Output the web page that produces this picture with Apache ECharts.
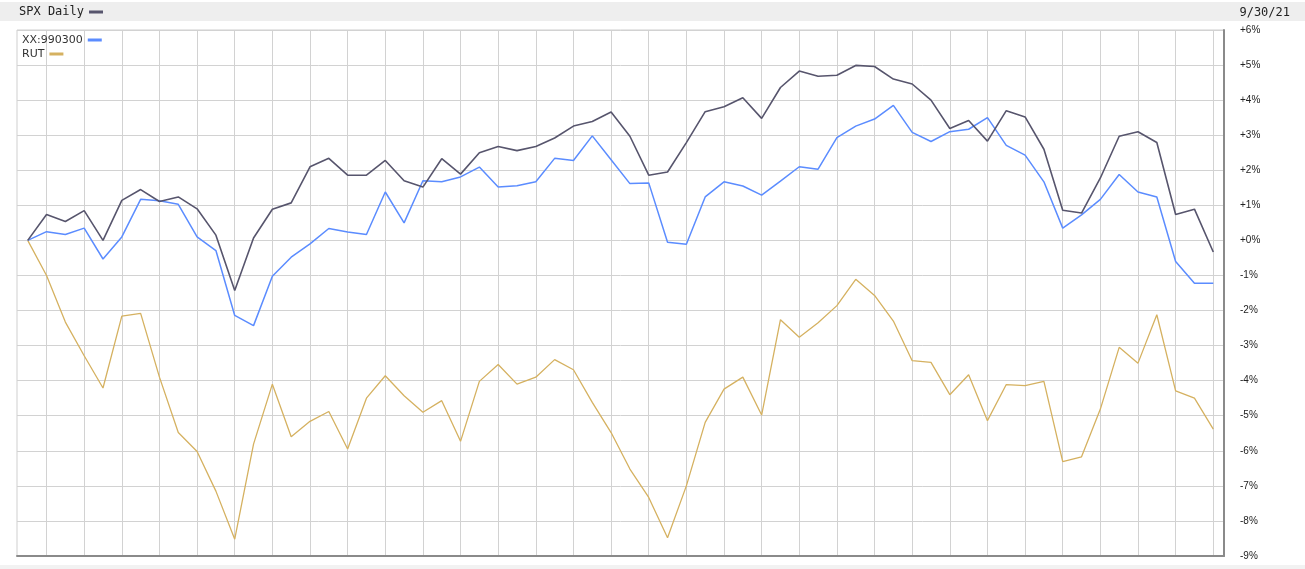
<!DOCTYPE html>
<html><head><meta charset="utf-8">
<script src="https://cdn.jsdelivr.net/npm/echarts@6/dist/echarts.min.js"></script>
<style>html,body{margin:0;padding:0;background:#fff}#c{width:1305px;height:569px}</style>
</head><body><div id="c"></div>
<script>
const days = ['7/1/21','7/2/21','7/6/21','7/7/21','7/8/21','7/9/21','7/12/21','7/13/21','7/14/21','7/15/21','7/16/21','7/19/21','7/20/21','7/21/21','7/22/21','7/23/21','7/26/21','7/27/21','7/28/21','7/29/21','7/30/21',
'8/2/21','8/3/21','8/4/21','8/5/21','8/6/21','8/9/21','8/10/21','8/11/21','8/12/21','8/13/21','8/16/21','8/17/21','8/18/21','8/19/21','8/20/21','8/23/21','8/24/21','8/25/21','8/26/21','8/27/21','8/30/21','8/31/21',
'9/1/21','9/2/21','9/3/21','9/7/21','9/8/21','9/9/21','9/10/21','9/13/21','9/14/21','9/15/21','9/16/21','9/17/21','9/20/21','9/21/21','9/22/21','9/23/21','9/24/21','9/27/21','9/28/21','9/29/21','9/30/21'];

const spx = [0,0.74,0.54,0.85,0.0,1.14,1.45,1.11,1.24,0.90,0.15,-1.43,0.07,0.89,1.07,2.10,2.34,1.86,1.86,2.28,1.70,
1.52,2.33,1.89,2.50,2.68,2.56,2.68,2.92,3.26,3.39,3.66,2.97,1.86,1.95,2.79,3.67,3.81,4.07,3.48,4.36,4.83,4.68,
4.71,4.99,4.96,4.60,4.46,4.00,3.19,3.42,2.83,3.70,3.52,2.60,0.86,0.78,1.78,2.97,3.10,2.79,0.74,0.89,-0.33];

const xx990300 = [0,0.25,0.17,0.35,-0.53,0.10,1.17,1.13,1.03,0.10,-0.29,-2.14,-2.43,-1.02,-0.48,-0.10,0.34,0.24,0.17,1.38,0.50,
1.70,1.67,1.81,2.09,1.52,1.56,1.67,2.34,2.28,2.98,2.30,1.62,1.64,-0.05,-0.11,1.24,1.67,1.55,1.29,1.69,2.10,2.03,
2.93,3.26,3.46,3.85,3.08,2.82,3.10,3.17,3.50,2.71,2.43,1.67,0.35,0.73,1.17,1.88,1.38,1.24,-0.60,-1.22,-1.22];

const rut = [0,-1.0,-2.33,-3.29,-4.21,-2.16,-2.08,-3.90,-5.48,-6.02,-7.15,-8.52,-5.81,-4.10,-5.60,-5.16,-4.88,-5.95,-4.50,-3.86,-4.43,
-4.90,-4.57,-5.73,-4.02,-3.54,-4.10,-3.90,-3.40,-3.69,-4.62,-5.48,-6.52,-7.33,-8.48,-7.00,-5.19,-4.24,-3.90,-4.98,-2.26,-2.76,-2.35,
-1.86,-1.11,-1.57,-2.30,-3.43,-3.48,-4.40,-3.83,-5.14,-4.11,-4.14,-4.02,-6.31,-6.17,-4.81,-3.05,-3.50,-2.12,-4.29,-4.50,-5.38];

const yMin = -9, yMax = 6, yStep = 1;
const headerDate = '9/30/21';
const names = ['SPX Daily', 'XX:990300', 'RUT'];

const pair = arr => arr.map((v, i) => [i, v]);
const gridX = days.map((d, i) => i).filter(i => i % 2 === 1);

const legendText = {fontFamily: 'DejaVu Sans', fontSize: 11, color: '#333', lineHeight: 14};
const chart = echarts.init(document.getElementById('c'), null, {renderer: 'canvas'});
chart.setOption({
  animation: false,
  backgroundColor: '#ffffff',
  graphic: [
    {type: 'rect', shape: {x: 0, y: 2, width: 1305, height: 19}, style: {fill: '#eeeeee'}, z: -10},
    {type: 'rect', shape: {x: 0, y: 565, width: 1305, height: 4}, style: {fill: '#f2f2f2'}, z: -10}
  ],
  title: {
    text: headerDate, right: 15, top: 7, padding: 0,
    textStyle: {fontFamily: 'DejaVu Sans Mono', fontSize: 12, fontWeight: 'normal', color: '#222'}
  },
  legend: [
    {
      data: [names[0]], left: 19, top: 6, padding: 0, align: 'right', icon: 'rect',
      itemWidth: 14, itemHeight: 3,
      textStyle: {fontFamily: 'DejaVu Sans Mono', fontSize: 12, color: '#222'}
    },
    {
      data: [names[1]], left: 22, top: 33, padding: 0,
      align: 'right', icon: 'rect', itemWidth: 14, itemHeight: 3, textStyle: legendText
    },
    {
      data: [names[2]], left: 22, top: 47, padding: 0,
      align: 'right', icon: 'rect', itemWidth: 14, itemHeight: 3, textStyle: legendText
    }
  ],
  grid: {left: 17, right: 81, top: 30, bottom: 13, show: true, borderColor: '#cfcfcf', borderWidth: 1},
  xAxis: {
    type: 'value', min: -0.57, max: days.length - 1 + 0.57,
    axisLine: {show: true, onZero: false, lineStyle: {color: '#8a8a8a', width: 2}},
    axisTick: {show: false, customValues: gridX},
    axisLabel: {show: false},
    splitLine: {show: true, lineStyle: {color: '#d2d2d2', width: 1}}
  },
  yAxis: {
    type: 'value', position: 'right', min: yMin, max: yMax, interval: yStep,
    axisLine: {show: true, onZero: false, lineStyle: {color: '#8a8a8a', width: 2}},
    axisTick: {show: false},
    splitLine: {show: true, lineStyle: {color: '#d2d2d2', width: 1}},
    axisLabel: {
      margin: 16, color: '#222', fontSize: 10, fontFamily: 'Liberation Sans',
      padding: [4, 0, 0, 0],
      formatter: v => (v >= 0 ? '+' : '') + v + '%'
    }
  },
  series: [
    {name: names[2], type: 'line', data: pair(rut), symbol: 'none', z: 2,
     lineStyle: {color: '#d5b160', width: 1.3}, itemStyle: {color: '#d5b160'}},
    {name: names[1], type: 'line', data: pair(xx990300), symbol: 'none', z: 3,
     lineStyle: {color: '#5b8cff', width: 1.5}, itemStyle: {color: '#5b8cff'}},
    {name: names[0], type: 'line', data: pair(spx), symbol: 'none', z: 4,
     lineStyle: {color: '#57556d', width: 1.6}, itemStyle: {color: '#57556d'}}
  ]
});
</script></body></html>
